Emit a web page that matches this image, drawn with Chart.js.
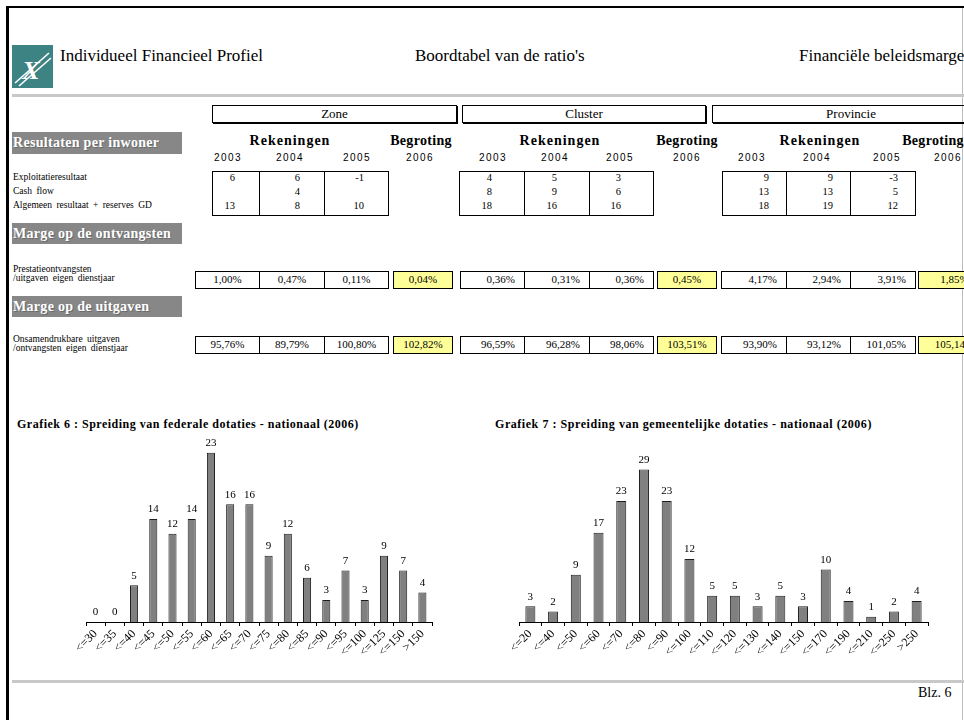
<!DOCTYPE html>
<html>
<head>
<meta charset="utf-8">
<script src="https://cdn.jsdelivr.net/npm/chart.js@4.4.1/dist/chart.umd.min.js"></script>
<style>
  html, body { margin: 0; padding: 0; }
  body { width: 964px; height: 720px; position: relative; overflow: hidden; background: #fff;
         font-family: "Liberation Serif", "Times New Roman", serif; color: #000; }
  .abs { position: absolute; white-space: nowrap; }
  .bar { position: absolute; background: #878787; color: #fff; font-weight: bold; font-size: 14px;
         letter-spacing: 0.3px; padding-left: 1px; box-sizing: border-box; text-shadow: 1px 1px 0 #6a6a6a; }
  .grp { position: absolute; border: 1px solid #000; box-shadow: 1px 1px 0 #000; text-align: center;
         font-size: 13px; line-height: 16px; box-sizing: border-box; }
  .cell { position: absolute; border: 1px solid #000; box-sizing: border-box; font-size: 11px;
          line-height: 15px; }
  .yel { background: #ffff99; }
  .small { font-size: 9.5px; word-spacing: 2px; }
  canvas { position: absolute; }
</style>
</head>
<body>
<!-- page frame -->
<div class="abs" style="left:6px;top:6px;width:958px;height:2px;background:#000"></div>
<div class="abs" style="left:6px;top:6px;width:3px;height:714px;background:#000"></div>
<div class="abs" style="left:962px;top:8px;width:1px;height:712px;background:#bdbdbd"></div>
<div class="abs" style="left:12px;top:94px;width:952px;height:3px;background:#c8c8c8"></div>
<div class="abs" style="left:12px;top:680px;width:952px;height:3px;background:#c8c8c8"></div>

<!-- logo -->
<svg class="abs" style="left:12px;top:45px" width="41" height="43" viewBox="0 0 41 43">
  <rect width="41" height="43" fill="#3e8383"/>
  <line x1="3" y1="38" x2="37" y2="8" stroke="#fff" stroke-width="1.6"/>
  <line x1="7" y1="41" x2="39" y2="13" stroke="#fff" stroke-width="1.6"/>
  <text x="19" y="34" text-anchor="middle" font-family="Liberation Serif" font-style="italic" font-weight="bold" font-size="26" fill="#fff">X</text>
</svg>
<div class="abs" style="left:60px;top:46px;font-size:17px">Individueel Financieel Profiel</div>
<div class="abs" style="left:415px;top:46px;font-size:17px">Boordtabel van de ratio's</div>
<div class="abs" style="left:799px;top:46px;font-size:17px">Financiële beleidsmarge</div>

<div id="table"></div>

<div class="abs" style="left:17px;top:417px;font-size:12px;font-weight:bold;letter-spacing:0.5px">Grafiek 6 : Spreiding van federale dotaties - nationaal (2006)</div>
<div class="abs" style="left:495px;top:417px;font-size:12px;font-weight:bold;letter-spacing:0.55px">Grafiek 7 : Spreiding van gemeentelijke dotaties - nationaal (2006)</div>
<canvas id="chart6" width="400" height="250" style="left:60px;top:430px"></canvas>
<canvas id="chart7" width="460" height="250" style="left:490px;top:430px"></canvas>

<div class="abs" style="left:918px;top:685px;font-size:14px">Blz. 6</div>

<script>
// --- table data ---
const groups = ['Zone', 'Cluster', 'Provincie'];
const years = ['2003', '2004', '2005', '2006'];
const resultRows = ['Exploitatieresultaat', 'Cash flow', 'Algemeen resultaat + reserves GD'];
const zoneResults = [[6, 6, -1], [null, 4, null], [13, 8, 10]];
const clusterResults = [[4, 5, 3], [8, 9, 6], [18, 16, 16]];
const provResults = [[9, 9, -3], [13, 13, 5], [18, 19, 12]];
const prestatieZone = ['1,00%', '0,47%', '0,11%', '0,04%'];
const prestatieCluster = ['0,36%', '0,31%', '0,36%', '0,45%'];
const prestatieProv = ['4,17%', '2,94%', '3,91%', '1,85%'];
const uitgavenZone = ['95,76%', '89,79%', '100,80%', '102,82%'];
const uitgavenCluster = ['96,59%', '96,28%', '98,06%', '103,51%'];
const uitgavenProv = ['93,90%', '93,12%', '101,05%', '105,14%'];

// --- chart data ---
const federalLabels = ['<=30', '<=35', '<=40', '<=45', '<=50', '<=55', '<=60', '<=65', '<=70',
  '<=75', '<=80', '<=85', '<=90', '<=95', '<=100', '<=125', '<=150', '>150'];
const federalValues = [0, 0, 5, 14, 12, 14, 23, 16, 16, 9, 12, 6, 3, 7, 3, 9, 7, 4];
const gemeenteLabels = ['<=20', '<=40', '<=50', '<=60', '<=70', '<=80', '<=90', '<=100', '<=110',
  '<=120', '<=130', '<=140', '<=150', '<=170', '<=190', '<=210', '<=250', '>250'];
const gemeenteValues = [3, 2, 9, 17, 23, 29, 23, 12, 5, 5, 3, 5, 3, 10, 4, 1, 2, 4];

// --- layout of the table (page pixels) ---
const table = document.getElementById('table');
function add(html) { table.insertAdjacentHTML('beforeend', html); }

const groupBoxes = [[212, 457], [462, 706], [712, 990]];
const yearX = [[228, 290, 357, 420], [493, 555, 620, 687], [752, 817, 887, 948]];
const rekX = [290, 560, 820];
const begX = [421, 687, 933];
const numCols = [[212, 259, 324, 388], [459, 524, 589, 653], [722, 786, 850, 915]];
const numPad = [24, 32, 17];
const pctCols = [[195, 259, 324, 388, 393, 452], [460, 524, 589, 653, 657, 716], [721, 786, 850, 915, 918, 990]];

groups.forEach((g, i) => {
  const [l, r] = groupBoxes[i];
  add(`<div class="grp" style="left:${l}px;top:105px;width:${r - l}px;height:18px">${g}</div>`);
  add(`<div class="abs" style="left:${rekX[i] - 60}px;width:120px;text-align:center;top:133px;font-size:14px;font-weight:bold;letter-spacing:1px">Rekeningen</div>`);
  add(`<div class="abs" style="left:${begX[i] - 50}px;width:100px;text-align:center;top:133px;font-size:14px;font-weight:bold;letter-spacing:0.3px">Begroting</div>`);
  years.forEach((y, k) => {
    add(`<div class="abs" style="left:${yearX[i][k] - 25}px;width:50px;text-align:center;top:152px;font-family:'Liberation Sans',sans-serif;font-size:10px;letter-spacing:1.5px">${y}</div>`);
  });
});

// gray section bars
add('<div class="bar" style="left:12px;top:132px;width:170px;height:22px;line-height:22px">Resultaten per inwoner</div>');
add('<div class="bar" style="left:12px;top:223px;width:170px;height:21px;line-height:21px">Marge op de ontvangsten</div>');
add('<div class="bar" style="left:12px;top:296px;width:170px;height:21px;line-height:21px">Marge op de uitgaven</div>');

// row labels
resultRows.forEach((t, r) => {
  add(`<div class="abs small" style="left:13px;top:${172 + r * 14}px">${t}</div>`);
});
add('<div class="abs small" style="left:13px;top:265px;line-height:9px">Prestatieontvangsten<br>/uitgaven eigen dienstjaar</div>');
add('<div class="abs small" style="left:13px;top:335px;line-height:9px">Onsamendrukbare uitgaven<br>/ontvangsten eigen dienstjaar</div>');

// number tables
[zoneResults, clusterResults, provResults].forEach((rows, i) => {
  const c = numCols[i];
  for (let k = 0; k < 3; k++) {
    add(`<div class="cell" style="left:${c[k]}px;top:171px;width:${c[k + 1] - c[k] + 1}px;height:45px"></div>`);
  }
  rows.forEach((vals, r) => {
    vals.forEach((v, k) => {
      if (v === null) return;
      const right = 964 - c[k + 1] + numPad[i];
      add(`<div class="abs" style="right:${right}px;top:${172 + r * 14}px;font-size:10.5px">${v}</div>`);
    });
  });
});

// percentage rows
function pctRow(vals, cols, top, align) {
  const cells = [[cols[0], cols[1]], [cols[1], cols[2]], [cols[2], cols[3]], [cols[4], cols[5]]];
  vals.forEach((v, k) => {
    const [l, r] = cells[k];
    const yel = k === 3 ? ' yel' : '';
    const a = k === 3 ? 'center' : align;
    add(`<div class="cell${yel}" style="left:${l}px;top:${top}px;width:${r - l + 1}px;height:18px;text-align:${a};padding:0 9px">${v}</div>`);
  });
}
pctRow(prestatieZone, pctCols[0], 271, 'center');
pctRow(prestatieCluster, pctCols[1], 271, 'right');
pctRow(prestatieProv, pctCols[2], 271, 'right');
pctRow(uitgavenZone, pctCols[0], 336, 'center');
pctRow(uitgavenCluster, pctCols[1], 336, 'right');
pctRow(uitgavenProv, pctCols[2], 336, 'right');

// --- charts ---
const valueLabels = {
  id: 'valueLabels',
  afterDatasetsDraw(chart) {
    const ctx = chart.ctx;
    const meta = chart.getDatasetMeta(0);
    const data = chart.data.datasets[0].data;
    ctx.save();
    ctx.font = '11px "Liberation Serif"';
    ctx.fillStyle = '#000';
    ctx.textAlign = 'center';
    ctx.textBaseline = 'bottom';
    meta.data.forEach((bar, i) => {
      ctx.fillText(String(data[i]), bar.x, bar.y - 4);
    });
    ctx.restore();
  }
};

function makeChart(id, labels, values, max, barPct, padLeft, padRight) {
  return new Chart(document.getElementById(id), {
    type: 'bar',
    data: {
      labels: labels,
      datasets: [{
        data: values,
        backgroundColor: '#808080',
        borderColor: '#1e1e1e',
        borderWidth: 1,
        borderSkipped: 'bottom',
        categoryPercentage: 1,
        barPercentage: barPct
      }]
    },
    options: {
      responsive: false,
      animation: false,
      layout: { padding: { left: padLeft, right: padRight, top: 8, bottom: 0 } },
      plugins: { legend: { display: false }, tooltip: { enabled: false } },
      scales: {
        x: {
          offset: true,
          grid: { display: true, offset: true, drawOnChartArea: false, drawTicks: true, tickLength: 4, color: '#000' },
          border: { display: true, color: '#000', width: 1 },
          ticks: { autoSkip: false, maxRotation: 45, minRotation: 45, padding: 1, color: '#000',
                   font: { family: 'Liberation Serif', size: 12 } },
          afterFit: (scale) => { scale.height = 58; }
        },
        y: { display: false, min: 0, max: max }
      }
    },
    plugins: [valueLabels]
  });
}

makeChart('chart6', federalLabels, federalValues, 25, 0.42, 26, 28);
makeChart('chart7', gemeenteLabels, gemeenteValues, 35, 0.44, 29, 22);
</script>
</body>
</html>
